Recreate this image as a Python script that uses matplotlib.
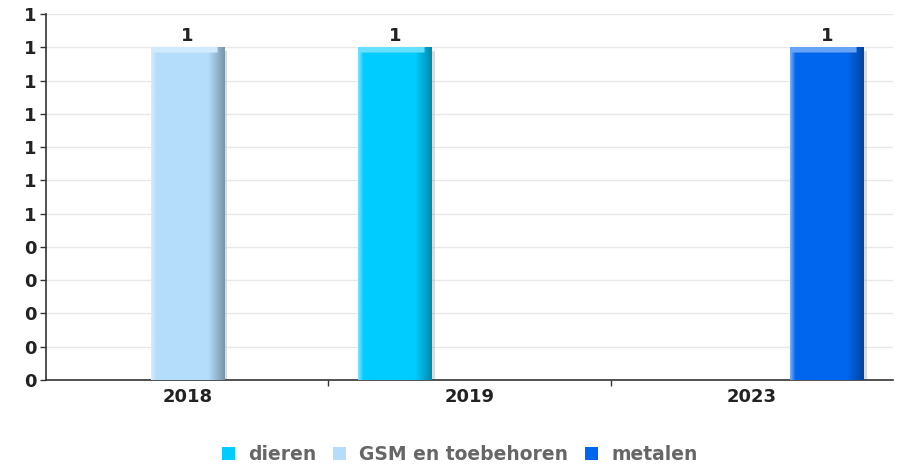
import numpy as np
import matplotlib
matplotlib.use('Agg')
import matplotlib.pyplot as plt
from matplotlib.ticker import FuncFormatter, FixedLocator
from matplotlib.patches import Patch
from matplotlib.colors import to_rgb

# jaren en reeksen
jaren = ['2018', '2019', '2023']
reeksen = ['dieren', 'GSM en toebehoren', 'metalen']
dieren = [np.nan, 1, np.nan]
gsm = [1, np.nan, np.nan]
metalen = [np.nan, np.nan, 1]
kleuren = ['#00CCFF', '#B3DDFB', '#0066EE']


def verloop(kleur, nx=60, ny=300, hoogte=1.0):
    # horizontaal verloop: lichte rand links, donkere schaduw rechts, lichte bovenrand
    c = np.array(to_rgb(kleur))
    wit = np.ones(3)
    fx = np.linspace(0, 1, nx)
    img = np.empty((ny, nx, 3))
    for j, f in enumerate(fx):
        if f < 0.07:
            k = c + (wit - c) * 0.45 * (1 - f / 0.07)
        elif f < 0.78:
            k = c
        else:
            k = c * (1 - 0.32 * (f - 0.78) / 0.22)
        img[:, j] = k
    rand = max(1, int(ny * 0.018 / hoogte))
    img[:rand, :int(nx * 0.9)] = c + (wit - c) * 0.4
    return np.clip(img, 0, 1)


fig = plt.figure(figsize=(9.03, 4.66), dpi=100)
ax = fig.add_axes([0.051, 0.1845, 0.938, 0.7855])

x = np.arange(len(jaren))
breedte = 0.26
verschuiving = [-0.265, 0.0, 0.265]

for i, waarden in enumerate([dieren, gsm, metalen]):
    pos = x + verschuiving[i]
    bars = ax.bar(pos, waarden, breedte, color=kleuren[i], zorder=3)
    for b, p, w in zip(bars, pos, waarden):
        if np.isnan(w):
            continue
        x0, y0 = b.get_x(), b.get_y()
        bw, bh = b.get_width(), b.get_height()
        # schaduw rechts van de staaf
        ax.bar(x0 + bw + 0.006, bh * 0.99, 0.012, align='center',
               color='#999999', alpha=0.35, zorder=2)
        im = ax.imshow(verloop(kleuren[i], hoogte=bh), extent=[x0, x0 + bw, y0, y0 + bh],
                       aspect='auto', zorder=4, interpolation='bilinear')
        im.set_clip_path(b)
        ax.text(p, w + 0.006, '%d' % w, ha='center', va='bottom',
                fontsize=13, fontweight='bold', color='#222222', zorder=5)

ax.set_xlim(-0.5, 2.5)
ax.set_ylim(0, 1.1)
ax.yaxis.set_major_locator(FixedLocator(np.linspace(0, 1.1, 12)))
ax.yaxis.set_major_formatter(FuncFormatter(lambda v, p: str(int(v + 0.5))))
ax.set_xticks(x)
ax.set_xticklabels(jaren)
ax.set_xticks([0.5, 1.5], minor=True)
ax.tick_params(axis='x', which='major', length=0, pad=6)
ax.tick_params(axis='x', which='minor', length=4, width=1, color='#333333')
ax.tick_params(axis='y', length=4, width=1, color='#333333', pad=3)
for lab in ax.get_xticklabels() + ax.get_yticklabels():
    lab.set_fontweight('bold')
    lab.set_fontsize(13)
    lab.set_color('#222222')

ax.grid(axis='y', color='#e8e8e8', linewidth=1, zorder=0)
ax.spines['top'].set_visible(False)
ax.spines['right'].set_visible(False)
ax.spines['left'].set_color('#333333')
ax.spines['bottom'].set_color('#333333')
ax.spines['left'].set_linewidth(1.2)
ax.spines['bottom'].set_linewidth(1.2)

handles = [Patch(facecolor=k, edgecolor='none') for k in kleuren]
leg = fig.legend(handles, reeksen, loc='center', bbox_to_anchor=(0.509, 0.024),
                 ncol=3, frameon=False, handlelength=0.7, handleheight=0.7,
                 handletextpad=0.7, columnspacing=0.9,
                 prop={'weight': 'bold', 'size': 13.5})
for t in leg.get_texts():
    t.set_color('#666666')

plt.savefig('out.png', dpi=100)
